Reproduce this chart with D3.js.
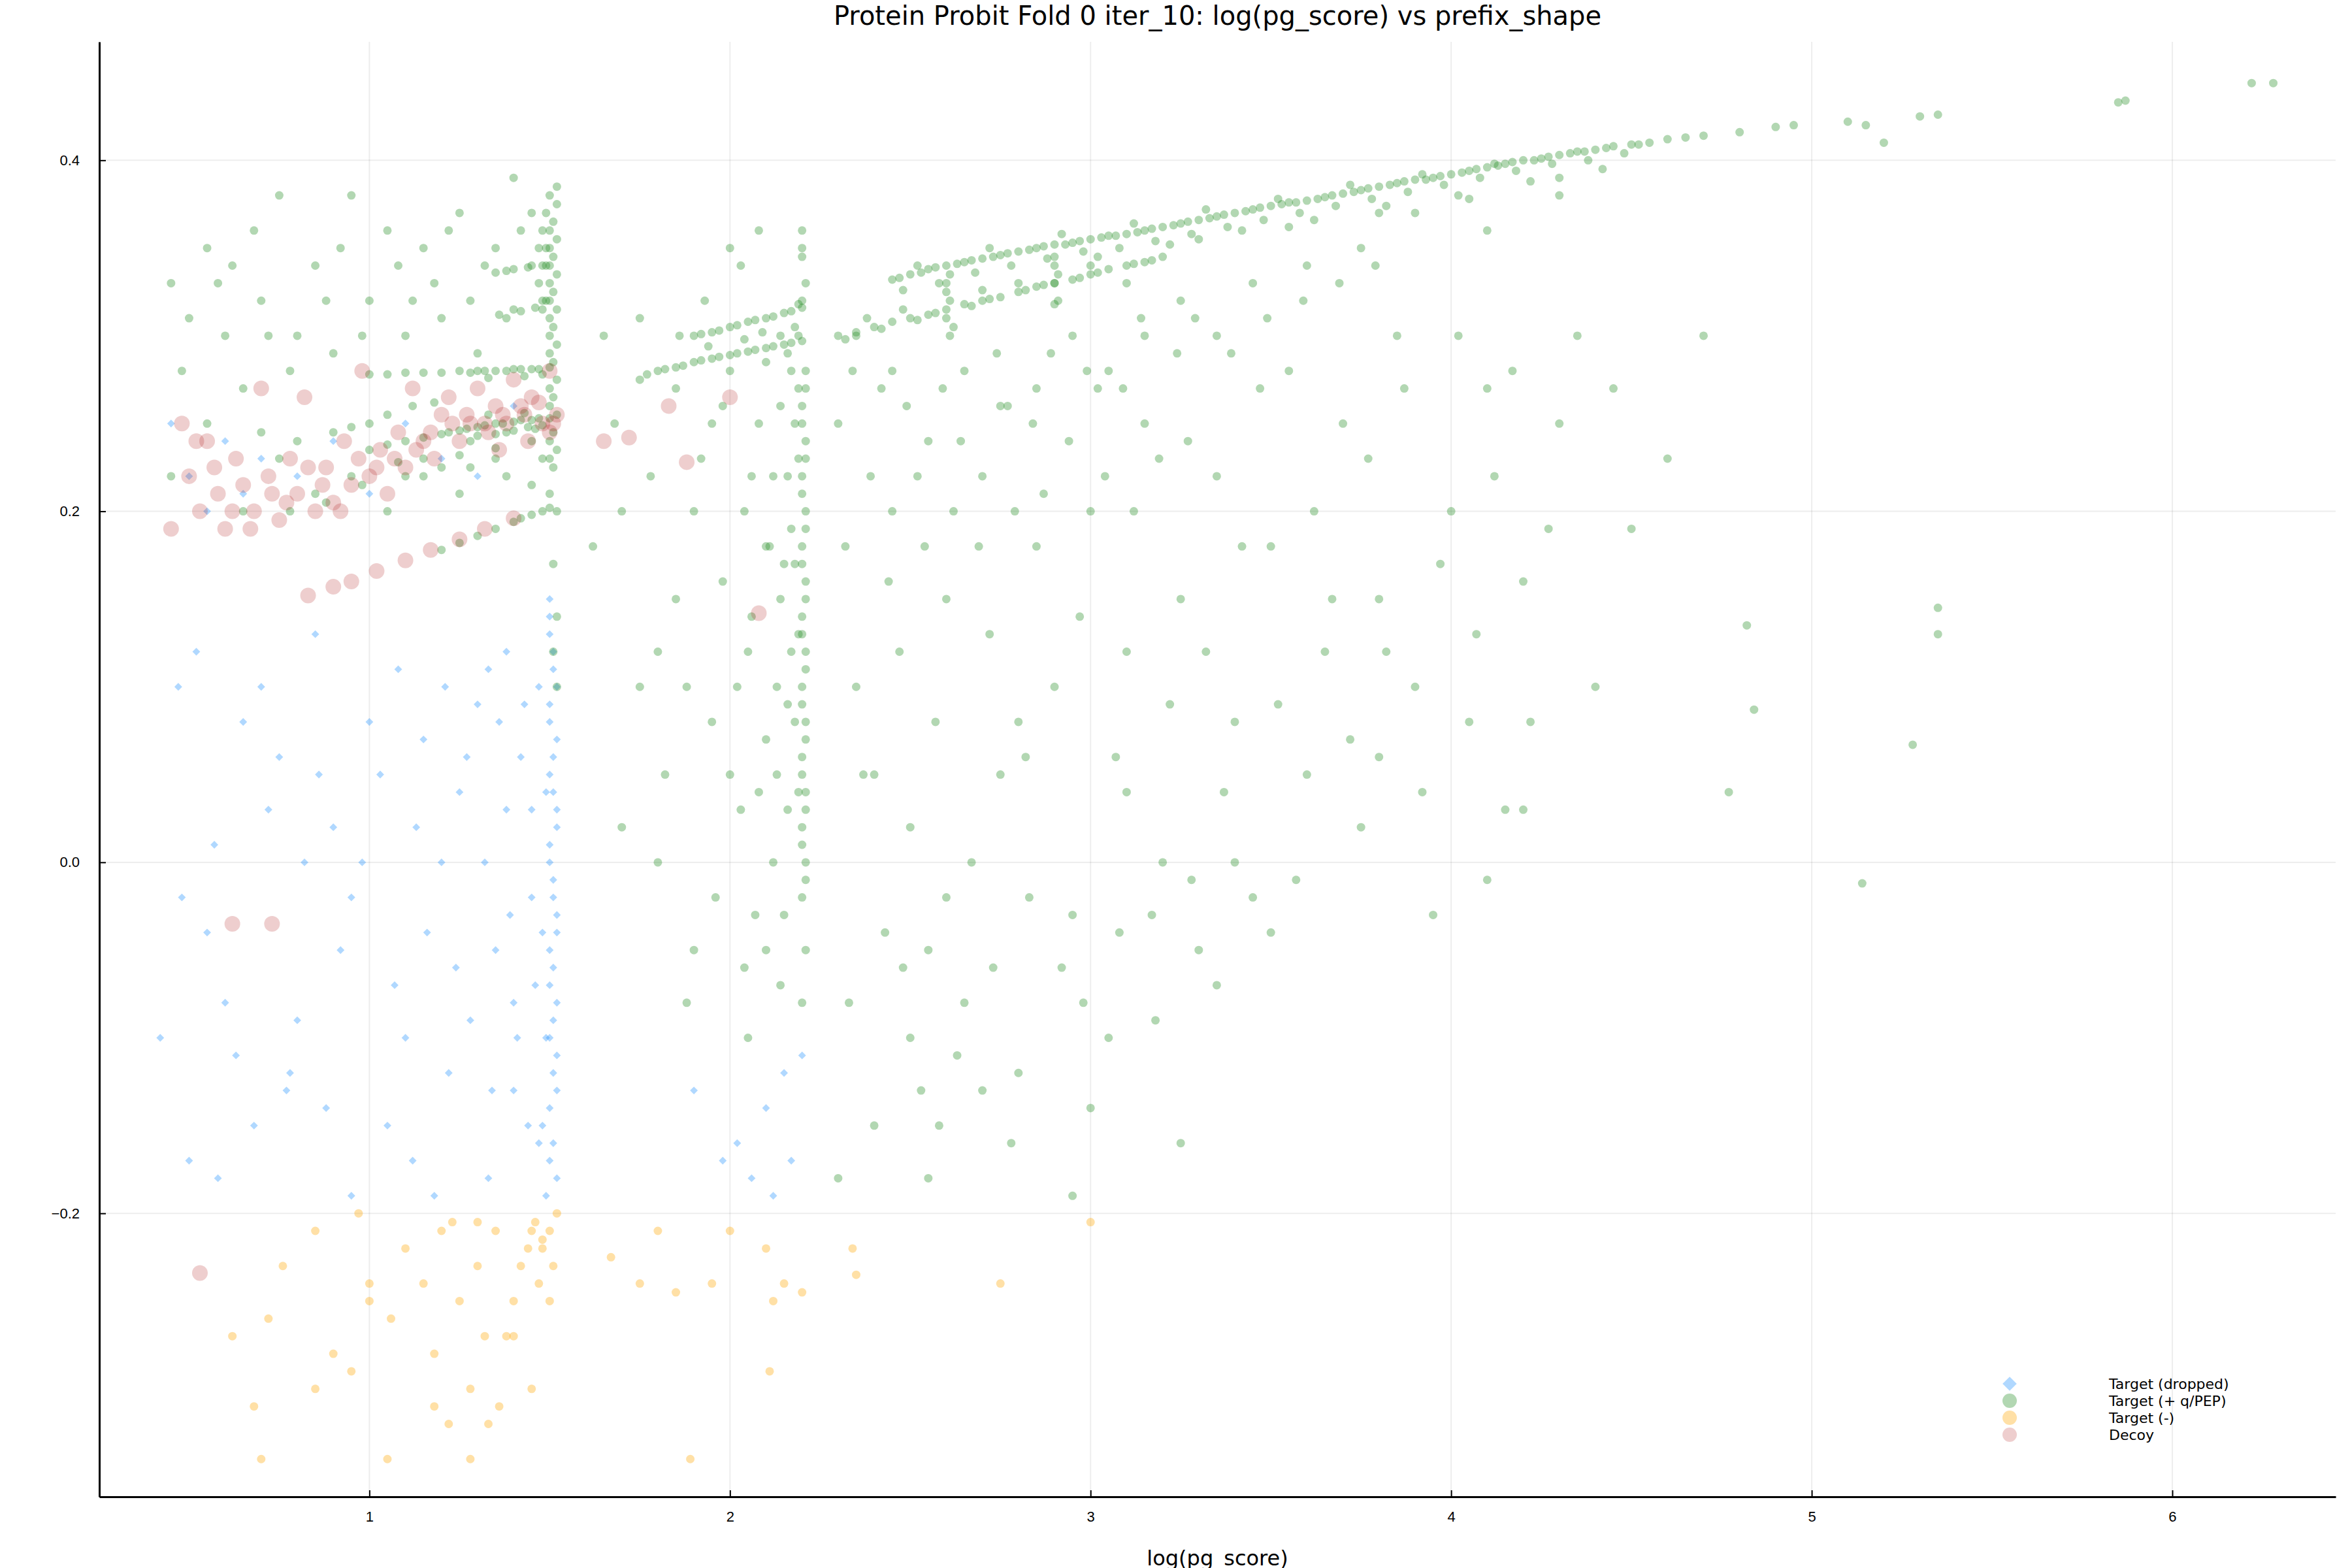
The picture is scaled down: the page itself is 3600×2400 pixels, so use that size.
<!DOCTYPE html>
<html><head><meta charset="utf-8">
<script src="https://cdn.jsdelivr.net/npm/d3@7"></script>
<style>body{margin:0;background:#fff}svg{font-family:"DejaVu Sans",sans-serif}</style>
</head><body><div id="chart"></div>
<script>
// points as [log(pg_score), prefix_shape]
const dropped = [
 [0.45,0.25],[0.5,0.22],[0.55,0.2],[0.6,0.24],[0.65,0.21],[0.7,0.23],[0.8,0.22],[0.9,0.24],[1.0,0.21],[1.1,0.25],[1.2,0.23],[1.3,0.22],[1.4,0.26],
 [0.47,0.1],[0.52,0.12],[0.55,-0.04],[0.6,-0.08],[0.65,0.08],[0.7,0.1],[0.75,0.06],[0.8,-0.09],[0.85,0.13],[0.9,0.02],[0.95,-0.02],[0.98,0.0],[1.03,0.05],[1.05,-0.15],[1.08,0.11],[1.1,-0.1],[1.15,0.07],[1.18,-0.19],[1.2,0.0],[1.25,0.04],[1.28,-0.09],[1.3,0.09],[1.32,0.0],[1.35,-0.05],[1.38,0.12],[1.4,-0.13],[1.42,0.06],[1.45,-0.02],[1.47,0.1],
 [1.5,0.15],[1.5,0.13],[1.51,0.11],[1.5,0.09],[1.52,0.07],[1.5,0.05],[1.51,0.04],[1.52,0.02],[1.5,0.0],[1.51,-0.01],[1.52,-0.03],[1.5,-0.05],[1.51,-0.06],[1.52,-0.08],[1.5,-0.1],[1.51,-0.12],[1.52,-0.13],[1.48,-0.15],[1.5,-0.17],[1.49,-0.19],[1.47,-0.16],[1.46,-0.07],[1.45,0.03],
 [1.5,0.14],[1.51,0.12],[1.52,0.1],[1.5,0.08],[1.51,0.06],[1.52,0.03],[1.5,0.01],[1.51,-0.02],[1.52,-0.04],[1.5,-0.07],[1.51,-0.09],[1.52,-0.11],[1.5,-0.14],[1.51,-0.16],[1.52,-0.18],[1.49,0.04],[1.48,-0.04],[1.49,-0.1],
 [1.36,0.08],[1.38,0.03],[1.39,-0.03],[1.41,-0.1],[1.43,0.09],[1.44,-0.15],[1.33,0.11],[1.34,-0.13],[1.27,0.06],[1.24,-0.06],[1.21,0.1],[1.16,-0.04],[1.13,0.02],[1.07,-0.07],[1.0,0.08],[0.92,-0.05],[0.86,0.05],[0.82,0.0],[0.77,-0.13],[0.72,0.03],[0.63,-0.11],[0.57,0.01],[0.48,-0.02],
 [0.42,-0.1],[0.5,-0.17],[0.58,-0.18],[0.68,-0.15],[0.78,-0.12],[0.88,-0.14],[0.95,-0.19],[1.12,-0.17],[1.22,-0.12],[1.33,-0.18],[1.4,-0.08],
 [1.98,-0.17],[2.02,-0.16],[2.06,-0.18],[2.1,-0.14],[2.15,-0.12],[2.2,-0.11],[2.12,-0.19],[1.9,-0.13],[2.17,-0.17]
];
const targetPos = [
 // upper diagonal band
 [2.45,0.332],[2.5,0.335],[2.55,0.338],[2.6,0.34],[2.65,0.342],[2.7,0.344],[2.75,0.346],[2.8,0.348],[2.85,0.35],[2.9,0.352],[2.95,0.353],[3.0,0.355],[3.05,0.357],[3.1,0.358],[3.15,0.36],[3.2,0.362],[3.25,0.364],[3.3,0.366],[3.35,0.368],[3.4,0.37],[3.45,0.372],[3.5,0.374],[3.55,0.376],[3.6,0.377],[3.65,0.379],[3.7,0.381],[3.75,0.383],[3.8,0.385],[3.85,0.387],[3.9,0.389],[3.95,0.39],[4.0,0.392],[4.05,0.394],[4.1,0.396],[4.15,0.398],[4.2,0.4],[4.25,0.401],[4.3,0.403],[4.35,0.405],[4.4,0.406],[4.45,0.408],[4.5,0.409],[4.55,0.41],[4.6,0.412],[4.7,0.414],[4.8,0.416],[4.9,0.419],[4.95,0.42],
 [2.47,0.333],[2.53,0.336],[2.57,0.339],[2.63,0.341],[2.67,0.343],[2.73,0.345],[2.77,0.347],[2.83,0.349],[2.87,0.351],[2.93,0.352],[2.97,0.354],[3.03,0.356],[3.07,0.357],[3.13,0.359],[3.17,0.361],[3.23,0.363],[3.27,0.365],[3.33,0.367],[3.37,0.369],[3.43,0.371],[3.47,0.373],[3.53,0.375],[3.57,0.376],[3.63,0.378],[3.67,0.38],[3.73,0.382],[3.77,0.384],[3.83,0.386],[3.87,0.388],[3.93,0.389],[3.97,0.391],[4.03,0.393],[4.07,0.395],[4.13,0.397],[4.17,0.399],[4.23,0.4],[4.27,0.402],[4.33,0.404],[4.37,0.405],[4.43,0.407],[4.52,0.409],[4.65,0.413],
 [2.48,0.326],[2.58,0.33],[2.68,0.336],[2.78,0.34],[2.88,0.344],[2.98,0.348],[3.08,0.35],[3.18,0.354],[3.28,0.358],[3.38,0.362],[3.48,0.366],[3.58,0.37],[3.68,0.374],[3.78,0.378],[3.88,0.382],[3.98,0.386],[4.08,0.39],[4.18,0.394],[4.28,0.398],[4.38,0.4],[4.48,0.404],
 [2.52,0.34],[2.72,0.35],[2.92,0.358],[3.12,0.364],[3.32,0.372],[3.52,0.378],[3.72,0.386],[3.92,0.392],[4.12,0.398],
 [3.02,0.345],[3.22,0.352],[3.42,0.36],[3.62,0.366],[3.82,0.374],[4.02,0.38],[4.22,0.388],[4.42,0.395],[3.3,0.355],[3.55,0.362],[3.8,0.37],[4.05,0.378],[4.3,0.39],
 // lower band
 [2.3,0.3],[2.35,0.302],[2.4,0.305],[2.45,0.308],[2.5,0.31],[2.55,0.312],[2.6,0.315],[2.65,0.318],[2.7,0.32],[2.75,0.322],[2.8,0.325],[2.85,0.328],[2.9,0.33],[2.95,0.332],[3.0,0.335],[3.05,0.338],[3.1,0.34],[3.15,0.342],[3.2,0.345],[2.62,0.305],[2.9,0.318],[3.1,0.33],
 [2.32,0.298],[2.42,0.304],[2.52,0.309],[2.57,0.313],[2.67,0.317],[2.72,0.321],[2.82,0.326],[2.87,0.329],[2.97,0.333],[3.02,0.336],[3.12,0.341],[3.17,0.343],[2.38,0.31],[2.48,0.315],[2.7,0.326],[2.8,0.33],[3.0,0.34],
 // band 1.8-2.2
 [1.75,0.275],[1.8,0.28],[1.85,0.282],[1.9,0.285],[1.95,0.287],[2.0,0.289],[2.05,0.291],[2.1,0.293],[2.15,0.295],[2.2,0.297],[1.9,0.3],[1.95,0.302],[2.0,0.305],[2.05,0.308],[2.1,0.31],[2.15,0.313],[2.2,0.316],[1.85,0.27],[2.0,0.28],[2.1,0.285],
 [1.77,0.278],[1.82,0.281],[1.87,0.283],[1.92,0.286],[1.97,0.288],[2.02,0.29],[2.07,0.292],[2.12,0.294],[2.17,0.296],[2.19,0.3],[1.92,0.301],[1.97,0.303],[2.02,0.306],[2.07,0.309],[2.12,0.311],[2.17,0.314],[2.19,0.318],[2.14,0.3],[2.04,0.298],[1.94,0.294],[2.18,0.305],[2.16,0.29],[2.09,0.302],
 // vertical stripe x~2.2
 [2.2,0.36],[2.2,0.345],[2.21,0.33],[2.2,0.32],[2.21,0.27],[2.2,0.26],[2.21,0.24],[2.2,0.22],[2.21,0.2],[2.2,0.18],[2.21,0.16],[2.2,0.14],[2.21,0.12],[2.2,0.1],[2.21,0.08],[2.2,0.06],[2.21,0.04],[2.2,0.02],[2.21,0.0],[2.2,-0.02],[2.21,-0.05],[2.2,-0.08],[2.18,0.25],[2.17,0.19],[2.16,0.09],[2.15,-0.03],[2.14,0.15],[2.12,0.22],[2.13,0.05],
 [2.2,0.35],[2.21,0.28],[2.2,0.25],[2.21,0.23],[2.2,0.21],[2.21,0.19],[2.2,0.17],[2.21,0.15],[2.2,0.13],[2.21,0.11],[2.2,0.09],[2.21,0.07],[2.2,0.05],[2.21,0.03],[2.2,0.01],[2.21,-0.01],[2.19,0.27],[2.19,0.23],[2.19,0.13],[2.19,0.04],[2.18,0.17],[2.18,0.08],[2.17,0.28],[2.17,0.12],[2.16,0.22],[2.16,0.03],[2.15,0.17],[2.14,0.26],[2.14,-0.07],[2.13,0.1],[2.12,0.0],[2.11,0.18],[2.1,0.07],[2.08,0.25],[2.07,-0.03],[2.06,0.14],[2.04,0.2],[2.03,0.03],[2.02,0.1],
 // vertical stripes x~2.6 and 2.9
 [2.6,0.33],[2.61,0.32],[2.6,0.31],[2.61,0.3],[2.9,0.34],[2.9,0.33],[2.91,0.32],[2.6,0.325],[2.61,0.335],[2.9,0.345],[2.91,0.335],
 // x~1.52 stripe
 [1.52,0.385],[1.52,0.375],[1.51,0.365],[1.52,0.355],[1.51,0.345],[1.52,0.335],[1.51,0.325],[1.52,0.315],[1.51,0.305],[1.52,0.295],[1.51,0.285],[1.52,0.275],[1.51,0.265],[1.52,0.255],[1.51,0.245],[1.52,0.235],[1.51,0.225],[1.52,0.2],[1.51,0.17],[1.52,0.14],[1.51,0.12],[1.52,0.1],
 [1.5,0.38],[1.5,0.36],[1.5,0.35],[1.5,0.34],[1.5,0.33],[1.5,0.32],[1.5,0.31],[1.5,0.3],[1.5,0.29],[1.5,0.27],[1.5,0.26],[1.5,0.24],[1.5,0.23],[1.5,0.21],[1.49,0.37],[1.49,0.35],[1.49,0.34],[1.49,0.32],[1.48,0.36],[1.48,0.34],[1.48,0.32],[1.47,0.35],[1.47,0.33],
 [1.45,0.34],[1.4,0.338],[1.35,0.336],[1.48,0.315],[1.42,0.314],[1.36,0.312],[1.44,0.339],[1.38,0.337],[1.46,0.316],[1.4,0.315],
 // left bands
 [1.0,0.278],[1.05,0.278],[1.1,0.279],[1.15,0.279],[1.2,0.279],[1.25,0.28],[1.3,0.28],[1.35,0.28],[1.4,0.281],[1.45,0.281],[1.5,0.282],
 [1.28,0.279],[1.32,0.28],[1.38,0.28],[1.42,0.281],[1.47,0.281],[1.33,0.276],[1.43,0.277],[1.48,0.278],
 [1.0,0.235],[1.05,0.238],[1.1,0.24],[1.15,0.242],[1.2,0.244],[1.25,0.246],[1.3,0.248],[1.35,0.25],[1.4,0.251],[1.45,0.252],[1.5,0.253],[1.28,0.24],[1.38,0.245],[1.46,0.247],
 [1.22,0.245],[1.27,0.247],[1.32,0.249],[1.37,0.25],[1.42,0.252],[1.47,0.253],[1.3,0.243],[1.35,0.244],[1.4,0.246],[1.44,0.248],[1.48,0.249],[1.33,0.255],[1.43,0.256],[1.25,0.232],[1.35,0.236],[1.45,0.24],[1.2,0.225],[1.15,0.23],[1.1,0.22],
 [1.2,0.178],[1.25,0.182],[1.3,0.186],[1.35,0.19],[1.4,0.194],[1.45,0.198],[1.5,0.202],[1.42,0.196],[1.48,0.2],
 [0.45,0.33],[0.5,0.31],[0.55,0.35],[0.6,0.3],[0.65,0.27],[0.7,0.32],[0.75,0.38],[0.8,0.3],[0.85,0.34],[0.9,0.29],[0.95,0.38],[1.0,0.32],[1.05,0.36],[1.1,0.3],[1.15,0.35],[1.2,0.31],[1.25,0.37],[1.3,0.29],[1.35,0.35],[1.4,0.39],[1.45,0.37],
 [0.48,0.28],[0.58,0.33],[0.68,0.36],[0.78,0.28],[0.88,0.32],[0.98,0.3],[1.08,0.34],[1.18,0.33],[1.28,0.32],[1.38,0.31],[1.42,0.36],[1.32,0.34],[1.22,0.36],[1.12,0.32],[0.92,0.35],[0.72,0.3],[0.62,0.34],
 [0.45,0.22],[0.55,0.25],[0.65,0.2],[0.75,0.23],[0.85,0.21],[0.95,0.22],[1.05,0.2],[1.15,0.22],[1.25,0.21],[1.35,0.23],
 [0.9,0.245],[0.95,0.248],[1.0,0.25],[0.8,0.24],[0.7,0.245],[1.05,0.255],[1.12,0.26],[1.18,0.262],[0.88,0.205],[0.98,0.215],[1.08,0.228],[0.78,0.2],[1.28,0.225],[1.38,0.22],[1.45,0.215],[1.48,0.23],
 // scattered cloud
 [1.65,0.3],[1.7,0.2],[1.75,0.1],[1.8,0.0],[1.85,0.15],[1.9,-0.05],[1.95,0.25],[2.0,0.05],[2.05,-0.1],[2.1,0.18],[2.0,0.35],[1.9,0.2],[1.8,0.12],[2.05,0.12],[2.1,-0.05],[1.95,0.08],[1.7,0.02],[1.62,0.18],
 [1.68,0.25],[1.78,0.22],[1.88,0.1],[1.98,0.16],[2.08,0.04],[1.92,0.23],[1.82,0.05],[1.96,-0.02],[2.06,0.22],[1.86,0.3],[1.93,0.32],[2.03,0.34],[2.08,0.36],[1.98,0.26],[1.88,-0.08],[2.04,-0.06],[1.75,0.31],
 [2.3,0.25],[2.35,0.1],[2.4,-0.15],[2.45,0.2],[2.5,0.02],[2.55,-0.05],[2.6,0.15],[2.65,-0.08],[2.7,0.22],[2.75,0.05],[2.8,-0.12],[2.85,0.18],[2.9,0.1],[2.95,-0.03],[3.0,0.2],[3.05,-0.1],[3.1,0.12],[3.15,0.25],[3.2,0.0],[3.25,0.15],[3.3,-0.05],[3.35,0.22],[3.4,0.08],[3.45,-0.02],[3.5,0.18],[3.55,0.28],[3.6,0.05],[3.65,0.12],[3.7,0.25],[3.75,0.02],[3.8,0.15],[3.85,0.3],[3.9,0.1],[4.0,0.2],[4.05,0.08],[4.1,0.27],[4.15,0.03],[4.2,0.16],[4.3,0.25],[4.4,0.1],[4.5,0.19],[4.6,0.23],[4.7,0.3],
 [2.32,0.18],[2.37,0.05],[2.42,0.27],[2.47,0.12],[2.52,0.22],[2.57,0.08],[2.62,0.2],[2.67,0.0],[2.72,0.13],[2.77,0.26],[2.82,0.06],[2.87,0.21],[2.92,-0.06],[2.97,0.14],[3.02,0.27],[3.07,0.06],[3.12,0.2],[3.17,-0.03],[3.22,0.09],[3.27,0.24],[3.32,0.12],[3.37,0.04],[3.42,0.18],[3.47,0.27],[3.52,0.09],[3.57,-0.01],[3.62,0.2],[3.67,0.15],[3.72,0.07],[3.77,0.23],[3.82,0.12],[3.87,0.27],[3.92,0.04],[3.97,0.17],[4.02,0.3],[4.07,0.13],[4.12,0.22],[4.17,0.28],[4.22,0.08],[4.27,0.19],[4.35,0.3],[4.45,0.27],
 [2.34,0.28],[2.39,0.22],[2.44,0.16],[2.49,0.26],[2.54,0.18],[2.59,0.27],[2.64,0.24],[2.69,0.18],[2.74,0.29],[2.79,0.2],[2.84,0.25],[2.89,0.29],[2.94,0.24],[2.99,0.28],[3.04,0.22],[3.09,0.27],[3.14,0.31],[3.19,0.23],[3.24,0.29],[3.29,0.31],[3.39,0.29],[3.49,0.31],[3.59,0.32],[3.69,0.33],[3.79,0.34],
 [2.35,0.3],[2.45,0.28],[2.55,0.24],[2.65,0.28],[2.75,0.26],[2.85,0.27],[2.95,0.3],[3.05,0.28],[3.15,0.3],[3.25,0.32],[3.35,0.3],[3.45,0.33],[3.6,0.34],[3.75,0.35],[3.9,0.37],[4.1,0.36],[4.3,0.38],
 [2.3,-0.18],[2.55,-0.18],[2.5,-0.1],[2.7,-0.13],[2.95,-0.19],[3.0,-0.14],[3.25,-0.16],[2.6,-0.02],[2.4,0.05],[2.8,0.08],[3.1,0.04],[3.4,0.0],[3.5,-0.04],[3.8,0.06],[3.95,-0.03],[4.1,-0.01],[4.2,0.03],
 [2.33,-0.08],[2.43,-0.04],[2.53,-0.13],[2.63,-0.11],[2.73,-0.06],[2.78,-0.16],[2.83,-0.02],[2.98,-0.08],[3.08,-0.04],[3.18,-0.09],[3.28,-0.01],[3.35,-0.07],[2.58,-0.15],[2.48,-0.06],
 [4.82,0.135],[4.77,0.04],[4.84,0.087],[5.14,-0.012],[5.28,0.067],[5.35,0.13],[5.35,0.145],
 [5.1,0.422],[5.15,0.42],[5.2,0.41],[5.3,0.425],[5.35,0.426],[5.85,0.433],[5.87,0.434],[6.22,0.444],[6.28,0.444]
];
const targetNeg = [
 [0.62,-0.27],[0.68,-0.31],[0.7,-0.34],[0.72,-0.26],[0.76,-0.23],[0.85,-0.21],[0.85,-0.3],[0.9,-0.28],[0.95,-0.29],[0.97,-0.2],[1.0,-0.24],[1.0,-0.25],[1.05,-0.34],[1.06,-0.26],[1.1,-0.22],[1.15,-0.24],[1.18,-0.31],[1.2,-0.21],[1.22,-0.32],[1.25,-0.25],[1.28,-0.3],[1.28,-0.34],[1.3,-0.23],[1.32,-0.27],[1.35,-0.21],[1.36,-0.31],[1.38,-0.27],[1.4,-0.25],[1.42,-0.23],[1.45,-0.21],[1.45,-0.3],[1.48,-0.22],[1.5,-0.25],[1.52,-0.2],[1.18,-0.28],[1.33,-0.32],
 [1.46,-0.205],[1.48,-0.215],[1.5,-0.21],[1.51,-0.23],[1.47,-0.24],[1.44,-0.22],[1.4,-0.27],[1.23,-0.205],[1.3,-0.205],
 [1.67,-0.225],[1.75,-0.24],[1.8,-0.21],[1.85,-0.245],[1.89,-0.34],[1.95,-0.24],[2.0,-0.21],[2.1,-0.22],[2.11,-0.29],[2.12,-0.25],[2.15,-0.24],[2.2,-0.245],[2.34,-0.22],[2.35,-0.235],[2.75,-0.24],[3.0,-0.205]
];
const decoy = [
 [0.45,0.19],[0.48,0.25],[0.5,0.22],[0.53,0.2],[0.55,0.24],[0.58,0.21],[0.6,0.19],[0.63,0.23],[0.65,0.215],[0.68,0.2],[0.7,0.27],[0.72,0.22],[0.75,0.195],[0.78,0.23],[0.8,0.21],[0.82,0.265],[0.85,0.2],[0.88,0.225],[0.9,0.205],[0.93,0.24],[0.95,0.215],[0.98,0.28],[1.0,0.22],[1.03,0.235],[1.05,0.21],[1.08,0.245],[1.1,0.225],[1.12,0.27],[1.15,0.24],[1.18,0.23],[1.2,0.255],[1.22,0.265],[1.25,0.24],[1.28,0.25],[1.3,0.27],[1.33,0.245],[1.35,0.26],[1.38,0.25],[1.4,0.275],[1.43,0.255],[1.45,0.265],[1.48,0.25],[1.5,0.28],[1.52,0.255],[1.5,0.245],
 [0.62,0.2],[0.67,0.19],[0.73,0.21],[0.77,0.205],[0.83,0.225],[0.87,0.215],[0.92,0.2],[0.97,0.23],[1.02,0.225],[1.07,0.23],[1.13,0.235],[1.17,0.245],[1.23,0.25],[1.27,0.255],[1.32,0.25],[1.37,0.255],[1.42,0.26],[1.47,0.262],[1.51,0.25],[1.44,0.24],[1.36,0.235],[0.52,0.24],[0.57,0.225],
 [0.83,0.152],[0.9,0.157],[0.95,0.16],[1.02,0.166],[1.1,0.172],[1.17,0.178],[1.25,0.184],[1.32,0.19],[1.4,0.196],
 [1.65,0.24],[1.72,0.242],[1.83,0.26],[1.88,0.228],[2.0,0.265],[2.08,0.142],[0.62,-0.035],[0.73,-0.035],[0.53,-0.234]
];
const xTicks = [1, 2, 3, 4, 5, 6];
const yTicks = [-0.2, 0.0, 0.2, 0.4];

const W = 3600, H = 2400;
const m = {l: 152, r: 25, t: 64, b: 109};
const svg = d3.select("#chart").append("svg").attr("width", W).attr("height", H);

const x = d3.scaleLinear().domain([0.251, 6.453]).range([m.l, W - m.r]);
const y = d3.scaleLinear().domain([-0.3615, 0.4675]).range([H - m.b, m.t]);

// grid
svg.append("g").selectAll("line").data(xTicks).join("line")
  .attr("x1", d => x(d)).attr("x2", d => x(d)).attr("y1", m.t).attr("y2", H - m.b)
  .attr("stroke", "#000").attr("stroke-opacity", 0.07).attr("stroke-width", 2);
svg.append("g").selectAll("line").data(yTicks).join("line")
  .attr("x1", m.l).attr("x2", W - m.r).attr("y1", d => y(d)).attr("y2", d => y(d))
  .attr("stroke", "#000").attr("stroke-opacity", 0.07).attr("stroke-width", 2);

const xAxis = svg.append("g").attr("transform", `translate(0,${H - m.b})`)
  .call(d3.axisBottom(x).tickValues(xTicks).tickFormat(d3.format("d")).tickSizeInner(-10).tickSizeOuter(0).tickPadding(22));
const yAxis = svg.append("g").attr("transform", `translate(${m.l},0)`)
  .call(d3.axisLeft(y).tickValues(yTicks).tickFormat(d => d === 0 ? "0.0" : d3.format(".1f")(d).replace("-", "\u2212")).tickSizeInner(-10).tickSizeOuter(0).tickPadding(30));
[xAxis, yAxis].forEach(a => {
  a.select(".domain").attr("stroke-width", 3);
  a.selectAll("line").attr("stroke-width", 2);
  a.selectAll("text").attr("font-size", 22).attr("fill", "#000");
});

const g = svg.append("g");
g.selectAll(".dr").data(dropped).join("path").attr("class", "dr")
  .attr("d", d3.symbol(d3.symbolDiamond2, 90))
  .attr("transform", d => `translate(${x(d[0])},${y(d[1])})`)
  .attr("fill", "#1E90FF").attr("fill-opacity", 0.35);
g.selectAll(".tp").data(targetPos).join("circle").attr("class", "tp")
  .attr("cx", d => x(d[0])).attr("cy", d => y(d[1])).attr("r", 6.5)
  .attr("fill", "#228B22").attr("fill-opacity", 0.35);
g.selectAll(".tn").data(targetNeg).join("circle").attr("class", "tn")
  .attr("cx", d => x(d[0])).attr("cy", d => y(d[1])).attr("r", 6.5)
  .attr("fill", "#FFA500").attr("fill-opacity", 0.35);
g.selectAll(".dc").data(decoy).join("circle").attr("class", "dc")
  .attr("cx", d => x(d[0])).attr("cy", d => y(d[1])).attr("r", 12)
  .attr("fill", "#B22222").attr("fill-opacity", 0.22);

svg.append("text").attr("x", (m.l + W - m.r) / 2).attr("y", 38).attr("text-anchor", "middle")
  .attr("font-size", 40).text("Protein Probit Fold 0 iter_10: log(pg_score) vs prefix_shape");
svg.append("text").attr("x", (m.l + W - m.r) / 2).attr("y", 2396).attr("text-anchor", "middle")
  .attr("font-size", 32).text("log(pg_score)");

const legend = [
  {name: "Target (dropped)", color: "#1E90FF", sym: "d"},
  {name: "Target (+ q/PEP)", color: "#228B22", sym: "c"},
  {name: "Target (-)", color: "#FFA500", sym: "c"},
  {name: "Decoy", color: "#B22222", sym: "c"}
];
const lg = svg.append("g").attr("transform", "translate(3076,2118)");
legend.forEach((d, i) => {
  const row = lg.append("g").attr("transform", `translate(0,${i * 26})`);
  if (d.sym === "d") row.append("path").attr("d", d3.symbol(d3.symbolDiamond2, 300)).attr("fill", d.color).attr("fill-opacity", 0.35);
  else row.append("circle").attr("r", 11).attr("fill", d.color).attr("fill-opacity", d.name === "Decoy" ? 0.22 : 0.35);
  row.append("text").attr("x", 152).attr("y", 8).attr("font-size", 22).text(d.name);
});
</script></body></html>
